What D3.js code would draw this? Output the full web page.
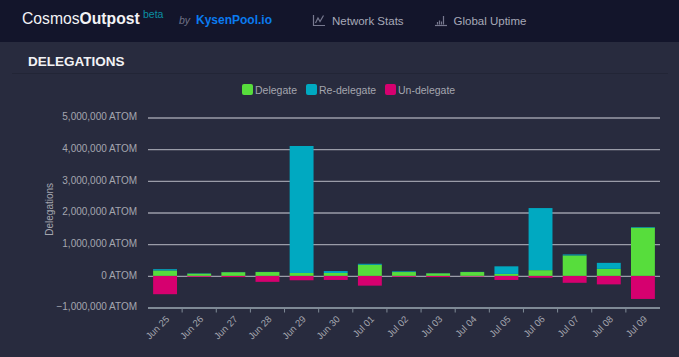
<!DOCTYPE html>
<html>
  <head>
    <meta charset="utf-8" />
    <title>Delegations</title>
    <script src="https://d3js.org/d3.v7.min.js"></script>
    <style>
      html, body {
        margin: 0;
        background: #282b3e;
        overflow: hidden;
      }
      svg {
        display: block;
        font-family: "Liberation Sans", sans-serif;
      }
      .axis text {
        fill: #a4a6af;
        font-size: 10px;
      }
      .axis path {
        display: none;
      }
    </style>
  </head>
  <body>
    <svg id="chart" width="679" height="357"></svg>

    <script>
      // Values, in millions of ATOM
      const days = ['Jun 25', 'Jun 26', 'Jun 27', 'Jun 28', 'Jun 29', 'Jun 30', 'Jul 01', 'Jul 02',
                    'Jul 03', 'Jul 04', 'Jul 05', 'Jul 06', 'Jul 07', 'Jul 08', 'Jul 09'];
      const delegate = [0.17, 0.07, 0.115, 0.12, 0.09, 0.09, 0.35, 0.12, 0.08, 0.12, 0.06, 0.18, 0.645, 0.22, 1.52];
      const redelegate = [0.04, 0.01, 0.005, 0.005, 4.01, 0.06, 0.03, 0.02, 0.005, 0.005, 0.24, 1.96, 0.03, 0.19, 0.02];
      const undelegate = [-0.58, -0.03, -0.04, -0.19, -0.14, -0.13, -0.31, -0.03, -0.04, -0.02, -0.13, -0.06, -0.22, -0.27, -0.73];
      const yTicks = [-1, 0, 1, 2, 3, 4, 5];
      const legendItems = [
        { label: 'Delegate', color: '#57dd3c', x: 242 },
        { label: 'Re-delegate', color: '#00a9c1', x: 306 },
        { label: 'Un-delegate', color: '#d6006f', x: 385 }
      ];

      const margin = { top: 117.5, right: 19, bottom: 49.5, left: 148 };
      const width = 679;
      const height = 357;

      const svg = d3.select('#chart');

      // Page header
      svg.append('rect').attr('width', width).attr('height', 42).attr('fill', '#13152b');

      const brand = svg.append('text').attr('x', 22).attr('y', 24).attr('font-size', 15.7).attr('fill', '#f2f2f5');
      brand.append('tspan').text('Cosmos');
      brand.append('tspan').attr('font-weight', 'bold').text('Outpost');

      svg.append('text').attr('x', 143).attr('y', 18).attr('font-size', 10.5).attr('fill', '#0b8fa3').text('beta');
      svg.append('text').attr('x', 179).attr('y', 24).attr('font-size', 10.5).attr('font-style', 'italic')
        .attr('fill', '#6f7186').text('by');
      svg.append('text').attr('x', 196).attr('y', 24).attr('font-size', 12).attr('font-weight', 'bold')
        .attr('fill', '#0a7bf0').text('KysenPool.io');

      // Nav icons
      const navIcon = svg.append('g').attr('fill', 'none').attr('stroke', '#77798f').attr('stroke-width', 1.2);
      navIcon.append('path').attr('d', 'M313.5 15V25.5H325');
      navIcon.append('path').attr('d', 'M315.5 23L318 18L320 21.5L323.5 15.5');
      navIcon.append('path').attr('d', 'M435 25.5H447');
      navIcon.append('path').attr('d', 'M437.5 24.5V22M439.5 24.5V20.5M441.5 24.5V21.5M443.5 24.5V16');
      svg.append('text').attr('x', 332).attr('y', 24.5).attr('font-size', 11.5).attr('fill', '#a7a9b8').text('Network Stats');
      svg.append('text').attr('x', 453.5).attr('y', 24.5).attr('font-size', 11.5).attr('fill', '#a7a9b8').text('Global Uptime');

      // Card title
      svg.append('text').attr('x', 28).attr('y', 66).attr('font-size', 13.5).attr('font-weight', 'bold')
        .attr('fill', '#f2f2f5').text('DELEGATIONS');
      svg.append('line').attr('x1', 12).attr('x2', 668).attr('y1', 73.5).attr('y2', 73.5).attr('stroke', '#222536');

      // Legend
      const legend = svg.append('g').selectAll('g').data(legendItems).enter().append('g')
        .attr('transform', d => `translate(${d.x}, 84)`);
      legend.append('rect').attr('width', 11).attr('height', 11).attr('rx', 2).attr('fill', d => d.color);
      legend.append('text').attr('x', 13).attr('y', 9.5).attr('font-size', 10.5).attr('fill', '#a4a6af').text(d => d.label);

      // Scales
      const x = d3.scaleBand().domain(days).range([margin.left, width - margin.right]);
      const y = d3.scaleLinear().domain([-1, 5]).range([height - margin.bottom, margin.top]);
      const barWidth = x.bandwidth() * 0.7;

      // Gridlines and value axis
      const yAxis = svg.append('g').attr('class', 'axis')
        .attr('transform', `translate(${margin.left}, 0)`)
        .call(d3.axisLeft(y).tickValues(yTicks).tickSize(-(width - margin.left - margin.right)).tickPadding(11)
          .tickFormat(d => d3.format(',')(d * 1000000) + ' ATOM'));
      yAxis.selectAll('line')
        .attr('stroke', d => d === -1 ? '#7f8a96' : '#9a9ca8')
        .attr('stroke-width', d => d === -1 ? 2 : 1.3);
      yAxis.selectAll('text').attr('dy', '0.22em');

      svg.append('text')
        .attr('transform', `translate(52.5, ${y(2.1)}) rotate(-90)`)
        .attr('text-anchor', 'middle')
        .attr('font-size', 10)
        .attr('fill', '#a4a6af')
        .text('Delegations');

      // Stacked bars
      const bars = svg.append('g');
      const drawBars = (values, base, color) => {
        bars.append('g').selectAll('rect').data(days).enter().append('rect')
          .attr('x', d => x(d) + (x.bandwidth() - barWidth) / 2)
          .attr('width', barWidth)
          .attr('y', (d, i) => Math.min(y(base[i]), y(base[i] + values[i])))
          .attr('height', (d, i) => Math.abs(y(base[i]) - y(base[i] + values[i])))
          .attr('fill', color);
      };
      drawBars(undelegate, days.map(() => 0), '#d6006f');
      drawBars(delegate, days.map(() => 0), '#57dd3c');
      drawBars(redelegate, delegate, '#00a9c1');

      // Category axis, ticks sit between the bars
      const xAxis = svg.append('g').attr('class', 'axis')
        .attr('transform', `translate(0, ${y(-1)})`)
        .call(d3.axisBottom(x).tickSize(0));
      xAxis.selectAll('text')
        .attr('x', 0)
        .attr('y', 0)
        .attr('dy', '0.35em')
        .attr('text-anchor', 'end')
        .style('font-size', '9.5px')
        .attr('transform', 'translate(2.5, 10) rotate(-45)');
      xAxis.selectAll('.sep').data(days.slice(1)).enter().append('line')
        .attr('class', 'sep')
        .attr('x1', d => x(d)).attr('x2', d => x(d))
        .attr('y1', 0).attr('y2', 5)
        .attr('stroke', '#7f8a96');
    </script>
  </body>
</html>
